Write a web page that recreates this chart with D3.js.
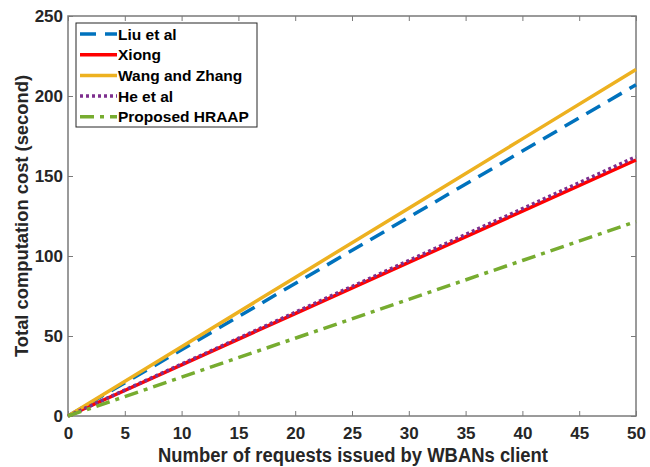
<!DOCTYPE html>
<html>
<head>
<meta charset="utf-8">
<script src="https://cdn.jsdelivr.net/npm/d3@7"></script>
<style>
  body { margin: 0; background: #fff; }
  text { font-family: "Liberation Sans", Arial, sans-serif; font-weight: bold; }
</style>
</head>
<body>
<script>
const requests = [0, 10, 20, 30, 40, 50];
const liu = [0, 41.4, 82.8, 124.2, 165.6, 207];
const xiong = [0, 32, 64, 96, 128, 160];
const wang = [0, 43.3, 86.6, 129.9, 173.2, 216.5];
const he = [0, 32.4, 64.8, 97.2, 129.6, 162];
const proposed = [0, 24.3, 48.6, 72.9, 97.2, 121.5];
const xTicks = [0, 5, 10, 15, 20, 25, 30, 35, 40, 45, 50];
const yTicks = [0, 50, 100, 150, 200, 250];

const series = [
    { name: "Liu et al", values: liu, color: "#0072BD", dash: "16,9" },
    { name: "Xiong", values: xiong, color: "#FF0000", dash: null },
    { name: "Wang and Zhang", values: wang, color: "#EDB120", dash: null },
    { name: "He et al", values: he, color: "#7E2F8E", dash: "3,3" },
    { name: "Proposed HRAAP", values: proposed, color: "#77AC30", dash: "14,6,4,6" }
];

const width = 650, height = 467;
const margin = { top: 16, right: 14, bottom: 51, left: 68 };

const svg = d3.select("body").append("svg")
    .attr("width", width)
    .attr("height", height);

const x = d3.scaleLinear().domain([0, 50]).range([margin.left, width - margin.right]);
const y = d3.scaleLinear().domain([0, 250]).range([height - margin.bottom, margin.top]);

const axisColor = "#7a7a7a";

// box
svg.append("rect")
    .attr("x", x(0)).attr("y", y(250))
    .attr("width", x(50) - x(0)).attr("height", y(0) - y(250))
    .attr("fill", "none").attr("stroke", axisColor).attr("stroke-width", 1.5);

const tickLen = 5;
const gx = svg.append("g").attr("transform", `translate(0,${y(0)})`)
    .call(d3.axisBottom(x).tickValues(xTicks).tickSizeInner(-tickLen).tickSizeOuter(0).tickPadding(11));
const gxTop = svg.append("g").attr("transform", `translate(0,${y(250)})`)
    .call(d3.axisTop(x).tickValues(xTicks).tickSizeInner(-tickLen).tickSizeOuter(0).tickFormat(""));
const gy = svg.append("g").attr("transform", `translate(${x(0)},0)`)
    .call(d3.axisLeft(y).tickValues(yTicks).tickSizeInner(-tickLen).tickSizeOuter(0).tickPadding(5));
const gyRight = svg.append("g").attr("transform", `translate(${x(50)},0)`)
    .call(d3.axisRight(y).tickValues(yTicks).tickSizeInner(-tickLen).tickSizeOuter(0).tickFormat(""));

[gx, gxTop, gy, gyRight].forEach(g => {
    g.select(".domain").remove();
    g.selectAll(".tick line").attr("stroke", axisColor).attr("stroke-width", 1);
    g.selectAll("text").attr("fill", "#262626").style("font-size", "17px");
});

const line = d3.line()
    .x((d, i) => x(requests[i]))
    .y(d => y(d));

series.forEach(s => {
    svg.append("path")
        .datum(s.values)
        .attr("fill", "none")
        .attr("stroke", s.color)
        .attr("stroke-width", 3.5)
        .attr("stroke-dasharray", s.dash)
        .attr("d", line);
});

// axis titles (the original font is a little condensed)
svg.append("text")
    .attr("x", 353)
    .attr("y", 462)
    .attr("text-anchor", "middle")
    .attr("fill", "#262626")
    .attr("textLength", 390)
    .attr("lengthAdjust", "spacingAndGlyphs")
    .style("font-size", "19.5px")
    .text("Number of requests issued by WBANs client");

svg.append("text")
    .attr("transform", `translate(28,216) rotate(-90)`)
    .attr("text-anchor", "middle")
    .attr("fill", "#262626")
    .attr("textLength", 282)
    .attr("lengthAdjust", "spacingAndGlyphs")
    .style("font-size", "18px")
    .text("Total computation cost (second)");

// legend
const legend = svg.append("g");
legend.append("rect")
    .attr("x", 76).attr("y", 23)
    .attr("width", 181).attr("height", 104)
    .attr("fill", "#fff").attr("stroke", "#262626").attr("stroke-width", 1);

series.forEach((s, i) => {
    const ly = 34 + i * 20.7;
    legend.append("line")
        .attr("x1", 80).attr("x2", 117)
        .attr("y1", ly).attr("y2", ly)
        .attr("stroke", s.color)
        .attr("stroke-width", 3.5)
        .attr("stroke-dasharray", s.dash);
    legend.append("text")
        .attr("x", 118).attr("y", ly + 5.5)
        .attr("fill", "#000")
        .style("font-size", "15.5px")
        .text(s.name);
});
</script>
</body>
</html>
